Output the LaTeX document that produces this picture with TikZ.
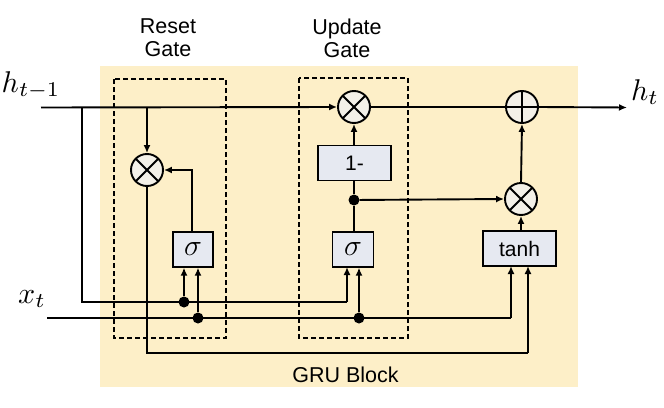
\documentclass[tikz,border=0pt]{standalone}
\usepackage{fontspec}
\setmainfont{Liberation Sans}
\usetikzlibrary{arrows.meta,calc}
\definecolor{blockbg}{HTML}{FDEFC8}
\definecolor{boxfill}{HTML}{E6E9F1}
\definecolor{opfill}{HTML}{F3F0E8}
\newcommand{\bigmath}[1]{\scalebox{3}{$#1$}}
\newcommand{\boxsigma}{\scalebox{1.45}{$\sigma$}}
\tikzset{
  wire/.style={line width=1.9pt},
  arr/.style={wire,-{Latex[length=8pt,width=7pt]}},
  gatebox/.style={draw,line width=1.3pt,fill=boxfill,minimum height=35pt,inner sep=0pt,font=\fontsize{21}{23}\selectfont},
  mulop/.style={draw,circle,line width=1.9pt,fill=opfill,minimum size=32pt,inner sep=0pt,
    path picture={\draw[line width=1.9pt] (path picture bounding box.north west)--(path picture bounding box.south east)
      (path picture bounding box.north east)--(path picture bounding box.south west);}},
  addop/.style={draw,circle,line width=1.9pt,fill=opfill,minimum size=32pt,inner sep=0pt,
    path picture={\draw[line width=1.9pt] (path picture bounding box.north)--(path picture bounding box.south)
      (path picture bounding box.west)--(path picture bounding box.east);}},
  jdot/.style={circle,fill=black,minimum size=11pt,inner sep=0pt},
  gateframe/.style={draw,line width=1.2pt,dash pattern=on 5pt off 3pt},
  lbl/.style={font=\fontsize{21.5}{23}\selectfont,align=center},
  mlbl/.style={anchor=base,inner sep=0pt}
}
\begin{document}
\begin{tikzpicture}[x=1pt,y=-1pt]
\useasboundingbox (0,0) rectangle (664,407);
% background block
\fill[blockbg] (100,66) rectangle (578,387);
\draw[gateframe] (114,79) rectangle (226,338);
\draw[gateframe] (299,78) rectangle (408,338);
% labels
\node[lbl] (lreset) at (168,38) {Reset\\Gate};
\node[lbl] (lupdate) at (347,38) {Update\\Gate};
\node[lbl,anchor=base] (lblock) at (345.5,382) {GRU Block};
\node[mlbl] (lhprev) at (31,92) {\bigmath{h_{t-1}}};
\node[mlbl] (lht) at (645,100) {\bigmath{h_t}};
\node[mlbl] (lxt) at (32,303) {\bigmath{x_t}};
% operators and boxes
\node[mulop] (mulR) at (147,170) {};
\node[gatebox,minimum width=40pt] (sigR) at (193,249.5) {\boxsigma};
\node[mulop] (mulU) at (354,107) {};
\node[gatebox,minimum width=73pt] (onem) at (354.5,163) {1-};
\node[gatebox,minimum width=41pt] (sigU) at (353,249.5) {\boxsigma};
\node[mulop] (mulO) at (521,199) {};
\node[addop] (plus) at (522,107) {};
\node[gatebox,minimum width=73pt] (tanhb) at (519.5,248.5) {tanh};
% coordinates
\coordinate (hin) at (41,107.5);
\coordinate (hout) at (627,107.5);
\coordinate (hbr) at (82,107.5);
\coordinate (hbr2) at (82,302);
\coordinate (xin) at (47,318);
\coordinate (resetTap) at (147,107.5);
\node[jdot] (d1) at (184,302) {};
\node[jdot] (d2) at (198,318) {};
\node[jdot] (d3) at (359,318) {};
\node[jdot] (d4) at (354,200) {};
% main h line
\draw[arr] (hin) -- (mulU.west);
\draw[wire] (mulU.east) -- (plus.west);
\draw[arr] (plus.east) -- (hout);
% reset path
\draw[arr] (resetTap) -- (mulR.north);
\draw[wire] (hbr) -- (hbr2) -- (347,302);
\draw[arr] (347,302) -- (347,267);
\draw[arr] (d1) -- (d1 |- sigR.south);
\draw[wire] (xin) -- (511,318);
\draw[arr] (511,318) -- (511,266);
\draw[arr] (d2) -- (d2 |- sigR.south);
\draw[arr] (d3) -- (d3 |- sigU.south);
\draw[arr] (sigR.north -| 192,0) -- (192,170) -- (mulR.east);
\draw[wire] (mulR.south) -- (147,353) -- (528,353);
\draw[arr] (528,353) -- (528,266);
% update path
\draw[wire] (sigU.north -| d4) -- (d4) -- (d4 |- onem.south);
\draw[arr] (onem.north -| mulU) -- (mulU.south);
\draw[arr] (d4) -- (mulO.west);
\draw[arr] (tanhb.north -| mulO) -- (mulO.south);
\draw[arr] (mulO.north) -- (plus.south);
\end{tikzpicture}
\end{document}
